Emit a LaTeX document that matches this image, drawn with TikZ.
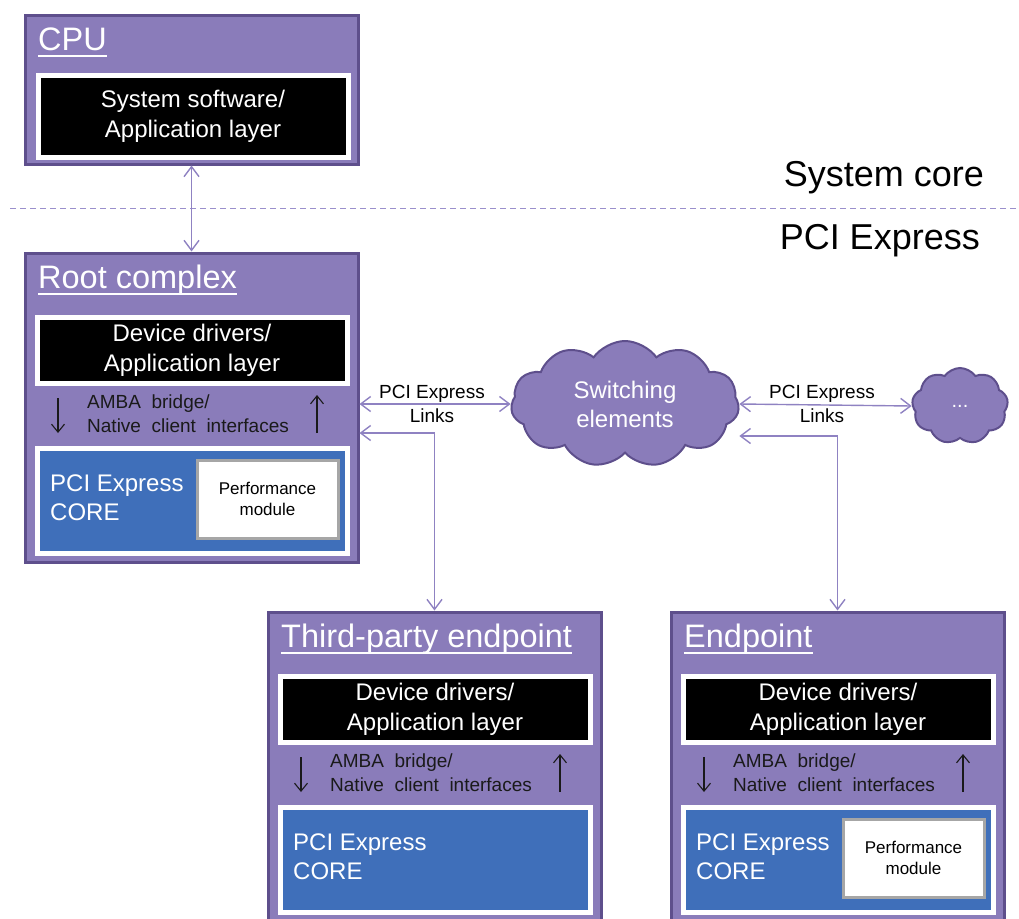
\documentclass[tikz,border=0pt]{standalone}
\usepackage{fontspec}
\setmainfont{Liberation Sans}
\newfontfamily\ambafont{Liberation Sans}[WordSpace=2.0]
\usetikzlibrary{arrows.meta,shapes.symbols,calc}
\definecolor{boxfill}{HTML}{8A7CBA}
\definecolor{boxedge}{HTML}{5E4F8C}
\definecolor{linkc}{HTML}{8F82C2}
\definecolor{dashc}{HTML}{9A8FCC}
\definecolor{coreblue}{HTML}{3F6FBA}
\definecolor{perfgray}{HTML}{A6A6A6}
\definecolor{darktext}{HTML}{1A1A1A}
\tikzset{
  outerbox/.style={draw=boxedge, line width=3pt, fill=boxfill, anchor=north west, inner sep=0pt},
  titletext/.style={anchor=base west, inner sep=0pt, text=white, font=\fontsize{32.5}{36}\selectfont},
  underl/.style={draw=white, line width=1.8pt},
  appbox/.style={draw=white, line width=5pt, fill=black, anchor=north west, inner sep=0pt,
    text=white, align=center, font=\fontsize{24}{30}\selectfont},
  ambatext/.style={anchor=west, inner sep=0pt, text=darktext, align=left, font=\ambafont\fontsize{19}{24}\selectfont},
  corebox/.style={draw=white, line width=5pt, fill=coreblue, anchor=north west, inner sep=0pt},
  coretext/.style={anchor=west, inner sep=0pt, text=white, align=left, font=\fontsize{24}{29}\selectfont},
  perfbox/.style={draw=perfgray, line width=3pt, fill=white, anchor=north west, inner sep=0pt,
    text=black, align=center, font=\fontsize{17}{21}\selectfont},
  smallarrow/.style={draw=darktext, line width=1.1pt, -{Straight Barb[length=8pt,width=13pt]}},
  link/.style={draw=linkc, line width=1.4pt, {Straight Barb[length=10pt,width=15pt]}-{Straight Barb[length=10pt,width=15pt]}},
  linklabel/.style={inner sep=0pt, text=black, align=center, font=\fontsize{19}{24}\selectfont},
  cloudnode/.style={cloud, draw=boxedge, line width=2pt, fill=boxfill, inner sep=0pt, text=white, align=center},
  dashline/.style={draw=dashc, line width=1pt, dash pattern=on 6pt off 4pt},
  bigtext/.style={inner sep=0pt, text=black, font=\fontsize{36}{40}\selectfont}
}
\newcommand\devicebox[4]{%
  \begin{scope}[shift={(#2,#3)}]
    \node[outerbox, minimum width=333pt, minimum height=309pt] (#1) at (1.5,1.5) {};
    \node[titletext] (#1title) at (16,38) {#4};
    \draw[underl] ([yshift=-6pt]#1title.base west) -- ([yshift=-6pt]#1title.base east);
    \node[appbox, minimum width=310pt, minimum height=66pt] (#1app) at (12.5,64.5) {Device drivers/\\Application layer};
    \node[ambatext] (#1amba) at (65,164) {AMBA bridge/\\Native client interfaces};
    \node[corebox, minimum width=310pt, minimum height=105pt] (#1core) at (12.5,195.5) {};
    \node[coretext] (#1coretxt) at (28,247.5) {PCI Express\\CORE};
    \draw[smallarrow] ([xshift=23.5pt,yshift=-12.5pt]#1app.south west) -- ([xshift=23.5pt,yshift=12.5pt]#1core.north west);
    \draw[smallarrow] ([xshift=282.5pt,yshift=12.5pt]#1core.north west) -- ([xshift=282.5pt,yshift=-9.5pt]#1app.south west);
  \end{scope}}
\newcommand\perfmodule[3]{%
  \node[perfbox, minimum width=141pt, minimum height=78pt] (#1) at (#2+173.5,#3+208.5) {Performance\\module};}
\begin{document}
\begin{tikzpicture}[x=1pt,y=-1pt]
  \useasboundingbox (0,0) rectangle (1019,918);
  % CPU
  \node[outerbox, minimum width=333pt, minimum height=149pt] (cpu) at (23.5,13.5) {};
  \node[titletext] (cputitle) at (38,50) {CPU};
  \draw[underl] ([yshift=-6pt]cputitle.base west) -- ([yshift=-6pt]cputitle.base east);
  \node[appbox, minimum width=310pt, minimum height=82pt] (cpuapp) at (35.5,72.5) {System software/\\Application layer};
  % separator
  \coordinate (dl) at (10,208);
  \coordinate (dr) at (1019,208);
  \draw[dashline] (dl) -- (dr);
  \node[bigtext, anchor=east] (syscore) at (984,178) {System core};
  \node[bigtext, anchor=east] (pcie) at (980,241) {PCI Express};
  % devices
  \devicebox{root}{22}{250}{Root complex}
  \perfmodule{rootperf}{22}{250}
  \devicebox{tp}{265}{609}{Third-party endpoint}
  \devicebox{ep}{668}{609}{Endpoint}
  \perfmodule{epperf}{668}{609}
  % clouds
  \node[cloudnode, cloud puffs=11, cloud puff arc=110, aspect=1.8, minimum width=228pt, minimum height=126pt,
        font=\fontsize{24}{29}\selectfont] (sw) at (625,404) {Switching\\elements};
  \node[cloudnode, cloud puffs=9, cloud puff arc=110, aspect=1.25, minimum width=96pt, minimum height=76pt,
        font=\fontsize{20}{24}\selectfont] (dots) at (960,406) {...};
  % connectors
  \draw[link] (cpu.south) -- (root.north);
  \draw[link] (root.east |- sw.west) -- (sw.west);
  \node[linklabel] (lab1) at (432,404) {PCI Express\\Links};
  \coordinate (j1) at (0,433);
  \draw[link] (root.east |- j1) -| (tp.north);
  \draw[link] (sw.east) -- (dots.west);
  \node[linklabel] (lab2) at (822,404) {PCI Express\\Links};
  \coordinate (j2) at (0,436);
  \draw[link] (sw.east |- j2) -| (ep.north);
\end{tikzpicture}
\end{document}
